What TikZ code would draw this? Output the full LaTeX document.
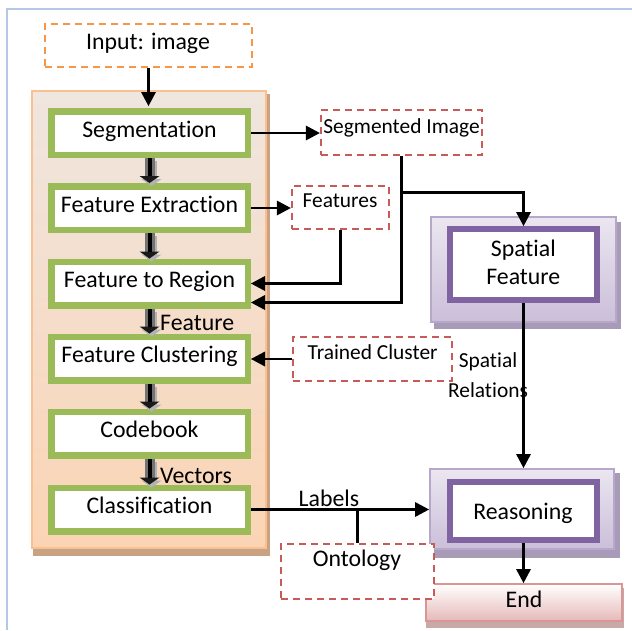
\documentclass[tikz,border=0pt]{standalone}
\usepackage{fontspec}
\setmainfont{Carlito}[Ligatures=NoCommon]
\usetikzlibrary{arrows.meta}
\definecolor{framecol}{HTML}{B4C7E7}
\definecolor{tanTop}{HTML}{EFE6DF}
\definecolor{tanBot}{HTML}{FBD4B4}
\definecolor{tanBorder}{HTML}{FAC090}
\definecolor{tanShadow}{HTML}{C9A283}
\definecolor{grn}{HTML}{9BBB59}
\definecolor{dred}{HTML}{C75B58}
\definecolor{dorange}{HTML}{F79646}
\definecolor{lavTop}{HTML}{EBE6F0}
\definecolor{lavBot}{HTML}{CBBFD9}
\definecolor{lavBorder}{HTML}{B7A8CB}
\definecolor{lavShadow}{HTML}{A89BB8}
\definecolor{purp}{HTML}{8064A2}
\definecolor{pinkBot}{HTML}{E6B9B8}
\definecolor{pinkBorder}{HTML}{D99694}
\definecolor{pinkShadow}{HTML}{C9A9A8}
\newcommand\txtL{\fontsize{23.8pt}{28pt}\selectfont}
\newcommand\txtS{\fontsize{21.4pt}{26pt}\selectfont}
\begin{document}
\begin{tikzpicture}[x=1pt,y=-1pt,
  greenbox/.style={draw=grn, fill=white, line width=6.5pt, minimum width=196.5pt,
    minimum height=43.5pt, inner sep=0pt, text height=16pt, text depth=7.4pt, font=\txtL},
  dashbox/.style={draw=#1, fill=white, line width=2.4pt, dash pattern=on 7pt off 5pt, inner sep=0pt},
  lavpanel/.style={draw=lavBorder, line width=2pt, top color=lavTop, bottom color=lavBot,
    minimum width=184pt, inner sep=0pt},
  purpbox/.style={draw=purp, fill=white, line width=6pt, minimum width=147pt, inner sep=0pt},
  txt/.style={inner sep=0pt, anchor=base},
  link/.style={line width=2.6pt, -{Triangle[length=14pt,width=15pt,line width=0pt]}},
  blockshadow/.style={line width=10pt, black!30, -{Triangle[length=7pt,width=20pt,line width=0pt]}},
  blockouter/.style={line width=10pt, black!55, -{Triangle[length=7pt,width=20pt,line width=0pt,color=black!90]}},
  blockinner/.style={line width=4pt, black, shorten >=7pt}
]
\useasboundingbox (0,0) rectangle (632,630);

% page frame
\draw[framecol, line width=1.5pt] (632,9) -- (7,9) -- (7,630);

% pipeline panel
\fill[tanShadow] (33,94) rectangle (270,556);
\node[draw=tanBorder, line width=2pt, top color=tanTop, bottom color=tanBot,
  minimum width=234pt, minimum height=457pt, inner sep=0pt] (stages) at (149,319.5) {};

% pipeline stages
\node[greenbox] (seg)  at (149.5,133)   {Segmentation};
\node[greenbox] (fe)   at (149.5,208)   {Feature Extraction};
\node[greenbox] (ftr)  at (149.5,283.5) {Feature to Region};
\node[greenbox] (fc)   at (149.5,358.5) {Feature Clustering};
\node[greenbox] (cb)   at (149.5,433.5) {Codebook};
\node[greenbox] (cls)  at (149.5,509.5) {Classification};

% block arrows between stages
\foreach \a/\b in {seg/fe, fe/ftr, ftr/fc, fc/cb, cb/cls} {
  \draw[blockshadow] ([xshift=2pt,yshift=-3pt]\a.south) -- ([xshift=2pt,yshift=-3pt]\b.north);
  \draw[blockouter] (\a.south) -- (\b.north);
  \draw[blockinner] (\a.south) -- (\b.north);
}
\node[txt, anchor=base west, font=\txtL] (featlbl) at (160,330.5) {Feature};
\node[txt, anchor=base west, font=\txtL] (veclbl) at (160,483) {Vectors};

% input and intermediate data
\node[dashbox=dorange, minimum width=207pt, minimum height=43pt] (input) at (148.5,45.5) {};
\node[txt, font=\txtL] (inputtxt) at (148,49) {Input: image};
\node[dashbox=dred, minimum width=161pt, minimum height=45pt] (segimg) at (401.5,132.5) {};
\node[txt, font=\txtS] (segimgtxt) at (401.5,133) {Segmented Image};
\node[dashbox=dred, minimum width=97pt, minimum height=43pt] (feats) at (340.5,207.5) {};
\node[txt, font=\txtS] (featstxt) at (340,207) {Features};
\node[dashbox=dred, minimum width=159pt, minimum height=44pt] (trained) at (372.5,359) {};
\node[txt, font=\txtS] (trainedtxt) at (372.7,359) {Trained Cluster};

% spatial feature
\fill[lavShadow] (434,222) rectangle (621,329);
\node[lavpanel, minimum width=185pt, minimum height=105pt] (sp) at (523.5,269.5) {};
\node[purpbox, minimum height=71pt] (spin) at (523.5,264.5) {};
\node[txt, font=\txtL] (sptxt1) at (523.3,256.5) {Spatial};
\node[txt, font=\txtL] (sptxt2) at (523.3,284.3) {Feature};

% reasoning
\fill[lavShadow] (433,473) rectangle (620,558);
\node[lavpanel, minimum height=80pt] (reas) at (522,509) {};
\node[purpbox, minimum height=58pt] (reasin) at (523.5,511) {};
\node[txt, font=\txtL] (reastxt) at (523,519) {Reasoning};

% end
\fill[pinkShadow] (426,588) rectangle (624,628);
\node[draw=pinkBorder, line width=2pt, top color=white, bottom color=pinkBot,
  minimum width=196pt, minimum height=37pt, inner sep=0pt] (endbox) at (524,602.5) {};
\node[txt, font=\txtL] (endtxt) at (524,607.7) {End};

% ontology
\node[dashbox=dred, minimum width=153pt, minimum height=55pt] (onto) at (357.5,571.5) {};
\node[txt, font=\txtL] (ontotxt) at (357,566.7) {Ontology};

% labels on connectors
\node[txt, font=\txtS] (sprel1) at (488,367) {Spatial};
\node[txt, font=\txtS] (sprel2) at (488,397) {Relations};
\node[txt, font=\txtL] (labelstxt) at (329,506) {Labels};

% connectors
\draw[link, shorten >=2pt] (input.south) -- (input.south |- seg.north);
\draw[link] (seg.east) -- (seg.east -| segimg.west);
\draw[link] (fe.east) -- (fe.east -| feats.west);
\draw[link] (feats.south) |- (ftr.east);
\path (segimg.south) ++(0,36) coordinate (split);
\draw[link] (segimg.south) |- ([yshift=-19pt]ftr.east);
\draw[link] (split) -| (spin.north);
\draw[link] (spin.south) -- (spin.south |- reas.north);
\draw[link] (trained.west) -- (trained.west -| fc.east);
\draw[link] (cls.east) -- (cls.east -| reas.west);
\draw[line width=2.6pt] (onto.north) -- (onto.north |- cls.east);
\draw[link] (reasin.south) -- (reasin.south |- endbox.north);
\end{tikzpicture}
\end{document}
